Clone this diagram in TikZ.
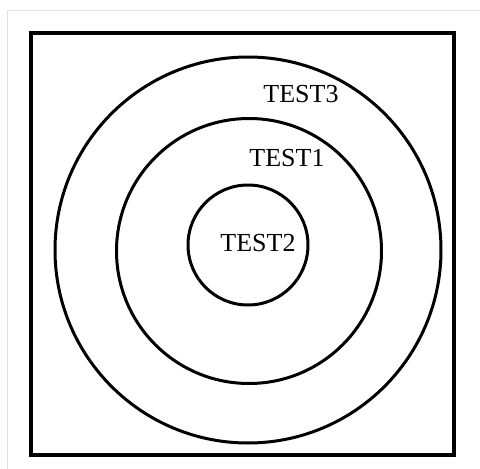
\documentclass[tikz,border=0pt]{standalone}
\usepackage{fontspec}
\setmainfont{Liberation Serif}
\begin{document}
\begin{tikzpicture}[x=1pt,y=-1pt]
\useasboundingbox (0,0) rectangle (480,469);
\draw[black!12,line width=1pt] (7,469)--(7,10)--(480,10);
\draw[line width=3.5pt] (31,33) rectangle (454,455);
\node[draw,circle,line width=3pt,inner sep=0pt,minimum size=386pt] (ring_out) at (248,250) {};
\node[draw,circle,line width=3pt,inner sep=0pt,minimum size=265pt] (ring_mid) at (249,251) {};
\node[draw,circle,line width=3pt,inner sep=0pt,minimum size=120pt] (ring_in) at (248,245) {};
\node[font=\fontsize{26}{31}\selectfont,inner sep=0pt] (lbl_out) at (301,94) {TEST3};
\node[font=\fontsize{26}{31}\selectfont,inner sep=0pt] (lbl_mid) at (287,158) {TEST1};
\node[font=\fontsize{26}{31}\selectfont,inner sep=0pt] (lbl_in) at (258,243) {TEST2};
\end{tikzpicture}
\end{document}
